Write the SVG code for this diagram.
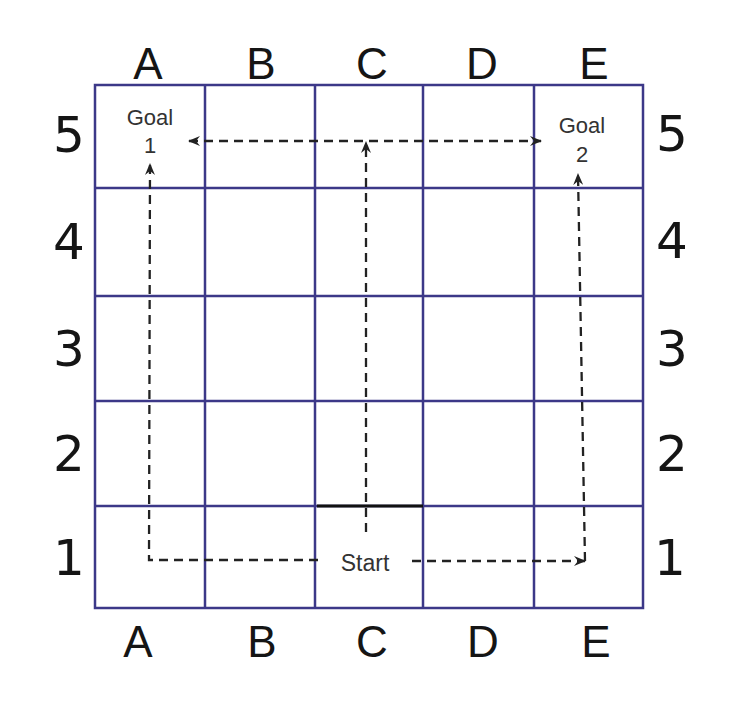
<svg xmlns="http://www.w3.org/2000/svg" width="741" height="706" viewBox="0 0 741 706">
  <style>
    .grid { stroke: #3c3888; stroke-width: 2.5; fill: none; }
    .lbl { font-family: "Liberation Sans", Arial, sans-serif; font-size: 44px; fill: #151515; text-anchor: middle; }
    .num { font-family: "DejaVu Sans", "Open Sans", sans-serif; font-size: 50px; fill: #151515; text-anchor: middle; }
    .cell { font-family: "Liberation Sans", Arial, sans-serif; font-size: 22px; fill: #333; text-anchor: middle; }
    .path { stroke: #222; stroke-width: 2.3; fill: none; stroke-dasharray: 9 6; }
  </style>
  <defs>
    <marker id="ah" viewBox="0 0 12 10" refX="11" refY="5" markerWidth="12" markerHeight="10" markerUnits="userSpaceOnUse" orient="auto-start-reverse">
      <path d="M0,0 L12,5 L0,10 L4,5 z" fill="#222"/>
    </marker>
  </defs>
  <rect width="741" height="706" fill="#ffffff"/>

  <g id="grid">
    <rect class="grid" x="95" y="85" width="548" height="523"/>
    <line class="grid" x1="205" y1="85" x2="205" y2="608"/>
    <line class="grid" x1="315" y1="85" x2="315" y2="608"/>
    <line class="grid" x1="423" y1="85" x2="423" y2="608"/>
    <line class="grid" x1="534" y1="85" x2="534" y2="608"/>
    <line class="grid" x1="95" y1="188" x2="643" y2="188"/>
    <line class="grid" x1="95" y1="296" x2="643" y2="296"/>
    <line class="grid" x1="95" y1="401" x2="643" y2="401"/>
    <line class="grid" x1="95" y1="506" x2="643" y2="506"/>
    <line x1="317" y1="506" x2="423" y2="506" stroke="#111" stroke-width="3"/>
  </g>

  <g id="col-labels-top">
    <text class="lbl" x="148" y="79">A</text>
    <text class="lbl" x="261" y="79">B</text>
    <text class="lbl" x="372" y="79">C</text>
    <text class="lbl" x="482" y="79">D</text>
    <text class="lbl" x="594" y="79">E</text>
  </g>
  <g id="col-labels-bottom">
    <text class="lbl" x="138" y="657">A</text>
    <text class="lbl" x="262" y="657">B</text>
    <text class="lbl" x="372" y="657">C</text>
    <text class="lbl" x="483" y="657">D</text>
    <text class="lbl" x="596" y="657">E</text>
  </g>
  <g id="row-labels-left">
    <text class="num" x="69" y="152">5</text>
    <text class="num" x="69" y="259">4</text>
    <text class="num" x="69" y="366">3</text>
    <text class="num" x="69" y="471">2</text>
    <text class="num" x="69" y="575">1</text>
  </g>
  <g id="row-labels-right">
    <text class="num" x="672" y="151">5</text>
    <text class="num" x="672" y="258">4</text>
    <text class="num" x="672" y="366">3</text>
    <text class="num" x="672" y="471">2</text>
    <text class="num" x="670" y="575">1</text>
  </g>

  <g id="goal1">
    <text class="cell" x="150" y="125">Goal</text>
    <text class="cell" x="150" y="153">1</text>
  </g>
  <g id="goal2">
    <text class="cell" x="582" y="133">Goal</text>
    <text class="cell" x="582" y="162">2</text>
  </g>
  <g id="start">
    <text class="cell" x="365" y="571" style="font-size:23px">Start</text>
  </g>

  <g id="connectors">
    <line class="path" x1="189" y1="141" x2="541" y2="141" marker-start="url(#ah)" marker-end="url(#ah)"/>
    <line class="path" x1="366" y1="532" x2="366" y2="142" marker-end="url(#ah)"/>
    <polyline class="path" points="318,560 149,560 150,164" marker-end="url(#ah)"/>
    <line class="path" x1="412" y1="561" x2="585" y2="561" marker-end="url(#ah)"/>
    <line class="path" x1="585" y1="561" x2="578" y2="174" marker-end="url(#ah)"/>
  </g>
</svg>
